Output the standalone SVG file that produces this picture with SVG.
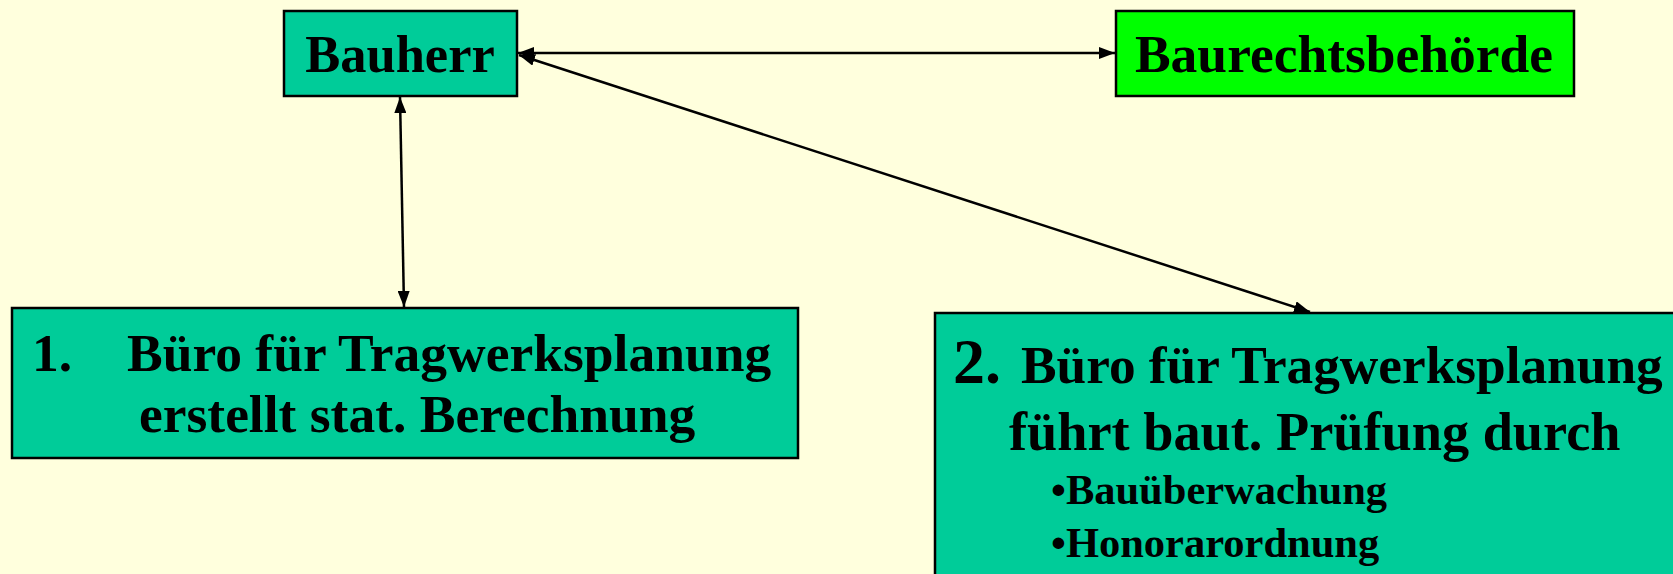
<svg xmlns="http://www.w3.org/2000/svg" width="1673" height="574" viewBox="0 0 1673 574">
<defs>
<marker id="ah" viewBox="0 0 16 12" refX="16" refY="6" markerWidth="16" markerHeight="12" markerUnits="userSpaceOnUse" orient="auto-start-reverse">
<path d="M0,0 L16,6 L0,12 Z" fill="#000"/>
</marker>
<style>
.box{stroke:#000;stroke-width:2.5}
.t{font-family:"Liberation Serif","Times New Roman",serif;font-weight:bold;fill:#000}
.c{stroke:#000;stroke-width:2.5;fill:none;marker-start:url(#ah);marker-end:url(#ah)}
</style>
</defs>
<rect width="1673" height="574" fill="#FFFFDD"/>
<g id="connectors">
<line class="c" x1="518" y1="53" x2="1115" y2="53"/>
<line class="c" x1="400" y1="97" x2="404" y2="307"/>
<line class="c" x1="519" y1="55" x2="1310" y2="312"/>
</g>
<g id="bauherr">
<rect class="box" x="284" y="11" width="233" height="85" fill="#00CC99"/>
<text class="t" x="400" y="72" font-size="52.5" text-anchor="middle">Bauherr</text>
</g>
<g id="baurechtsbehoerde">
<rect class="box" x="1116" y="11" width="458" height="85" fill="#00FF00"/>
<text class="t" x="1344" y="72" font-size="53.5" text-anchor="middle">Baurechtsbehörde</text>
</g>
<g id="buero1">
<rect class="box" x="12" y="308" width="786" height="150" fill="#00CC99"/>
<text class="t" x="32" y="371" font-size="53.5">1.</text>
<text class="t" x="127" y="371" font-size="53.5">Büro für Tragwerksplanung</text>
<text class="t" x="139" y="432" font-size="53.5">erstellt stat. Berechnung</text>
</g>
<g id="buero2">
<rect class="box" x="935" y="313" width="740" height="275" fill="#00CC99"/>
<text class="t" x="953" y="383" font-size="64">2.</text>
<text class="t" x="1021" y="383" font-size="53.3">Büro für Tragwerksplanung</text>
<text class="t" x="1009" y="450" font-size="54.3">führt baut. Prüfung durch</text>
<text class="t" x="1051" y="504" font-size="42.5">•Bauüberwachung</text>
<text class="t" x="1051" y="557" font-size="42.5">•Honorarordnung</text>
</g>
</svg>
